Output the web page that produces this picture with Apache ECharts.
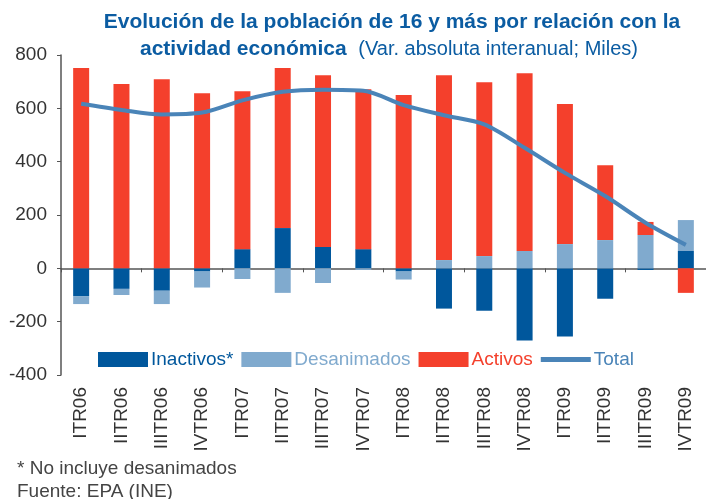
<!DOCTYPE html>
<html><head><meta charset="utf-8">
<script src="https://cdn.jsdelivr.net/npm/echarts@6/dist/echarts.min.js"></script>
<style>html,body{margin:0;padding:0;background:#fff}#c{width:706px;height:499px}</style>
</head><body><div id="c"></div>
<script>
const categories = ['ITR06','IITR06','IIITR06','IVTR06','ITR07','IITR07','IIITR07','IVTR07','ITR08','IITR08','IIITR08','IVTR08','ITR09','IITR09','IIITR09','IVTR09'];
const inactivos = [-104, -77, -84, -12, 72, 151, 80, 72, -12, -151, -159, -271, -256, -114, -6, 65];
const desanimados = [-30, -23, -50, -60, -40, -92, -55, -6, -30, 31, 46, 65, 91, 106, 125, 116];
const activos = [751, 691, 709, 657, 592, 600, 644, 600, 650, 693, 652, 667, 525, 281, 49, -92];
const total = [617, 594, 577, 584, 630, 662, 670, 666, 612, 574, 540, 452, 358, 271, 171, 88];
const yTicks = [-400, -200, 0, 200, 400, 600, 800];

const FONT = '"Liberation Sans", Arial, Helvetica, sans-serif';
const C_INA = '#00579C', C_DES = '#80AACE', C_ACT = '#F4402C', C_TOT = '#4A84B8';
const chart = echarts.init(document.getElementById('c'));
chart.setOption({
  backgroundColor: '#fff',
  animation: false,
  textStyle: { fontFamily: FONT },
  title: [
    { text: 'Evolución de la población de 16 y más por relación con la', left: 387, top: 7, textAlign: 'center',
      textStyle: { fontFamily: FONT, fontSize: 21, fontWeight: 'bold', color: '#0B5CA2' } },
    { text: '{b|actividad económica}  {n|(Var. absoluta interanual; Miles)}', left: 384, top: 34, textAlign: 'center',
      textStyle: { fontFamily: FONT, fontSize: 21, color: '#0B5CA2',
        rich: { b: { fontFamily: FONT, fontSize: 21, fontWeight: 'bold', color: '#0B5CA2' },
                n: { fontFamily: FONT, fontSize: 20, fontWeight: 'normal', color: '#0B5CA2' } } } },
    { text: '* No incluye desanimados', left: 12, top: 454,
      textStyle: { fontFamily: FONT, fontSize: 19, fontWeight: 'normal', color: '#444' } },
    { text: 'Fuente: EPA (INE)', left: 12, top: 477,
      textStyle: { fontFamily: FONT, fontSize: 19, fontWeight: 'normal', color: '#444' } }
  ],
  legend: {
    left: 93, top: 345, itemWidth: 50, itemHeight: 15, itemGap: 8,
    textStyle: { fontFamily: FONT, fontSize: 19, padding: [0,0,0,-2] },
    data: [
      { name: 'Inactivos*', icon: 'rect', textStyle: { color: C_INA } },
      { name: 'Desanimados', icon: 'rect', textStyle: { color: C_DES } },
      { name: 'Activos', icon: 'rect', textStyle: { color: C_ACT } },
      { name: 'Total', icon: 'path://M0,0 L50,0 L50,5 L0,5 Z', itemStyle: { color: C_TOT }, textStyle: { color: C_TOT } }
    ]
  },
  grid: { left: 61, top: 55, width: 655, height: 320, containLabel: false },
  xAxis: [
    { type: 'category', data: categories, boundaryGap: true,
      axisLine: { onZero: true, lineStyle: { color: '#555', width: 1.5 } },
      axisTick: { show: true, length: 4, lineStyle: { color: '#555' } },
      axisLabel: { show: false } },
    { type: 'category', data: categories, position: 'bottom', boundaryGap: true,
      axisLine: { show: false }, axisTick: { show: false },
      axisLabel: { rotate: 90, fontSize: 19, margin: 12, color: '#333', fontFamily: FONT } }
  ],
  yAxis: {
    type: 'value', min: yTicks[0], max: yTicks[yTicks.length-1], interval: 200,
    axisLine: { show: true, lineStyle: { color: '#555', width: 1.5 } },
    axisTick: { show: true, length: 4, lineStyle: { color: '#555' } },
    axisLabel: { fontSize: 19, color: '#333', margin: 14, fontFamily: FONT },
    splitLine: { show: false }
  },
  series: [
    { name: 'Inactivos*', type: 'bar', stack: 'a', barWidth: 16, data: inactivos, itemStyle: { color: C_INA } },
    { name: 'Desanimados', type: 'bar', stack: 'a', barWidth: 16, data: desanimados, itemStyle: { color: C_DES } },
    { name: 'Activos', type: 'bar', stack: 'a', barWidth: 16, data: activos, itemStyle: { color: C_ACT } },
    { name: 'Total', type: 'line', data: total, smooth: 0.3, symbol: 'none', lineStyle: { color: C_TOT, width: 4 }, itemStyle: { color: C_TOT }, z: 5 }
  ]
});
</script></body></html>
